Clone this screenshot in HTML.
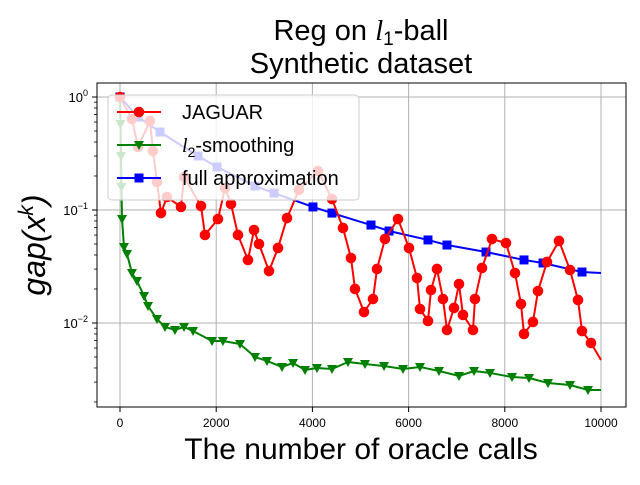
<!DOCTYPE html>
<html><head><meta charset="utf-8"><style>
body{margin:0;background:#fff;}
svg text{font-family:"Liberation Sans","DejaVu Sans",sans-serif;}
</style></head><body>
<svg id="chart" width="640" height="480" viewBox="0 0 640 480" xmlns="http://www.w3.org/2000/svg">
<rect x="0" y="0" width="640" height="480" fill="#fff"/>
<text x="361" y="40" text-anchor="middle" font-size="29">Reg on <tspan font-family="Liberation Serif" font-style="italic">l</tspan><tspan font-size="19" dy="5">1</tspan><tspan dy="-5">-ball</tspan></text>
<text x="361" y="73" text-anchor="middle" font-size="29">Synthetic dataset</text>
<text x="361" y="459" text-anchor="middle" font-size="30">The number of oracle calls</text>
<text transform="translate(45,245) rotate(-90)" text-anchor="middle" font-size="32" font-family="Liberation Serif" font-style="italic">gap(x<tspan font-size="21" dy="-12">k</tspan><tspan dy="12">)</tspan></text>
<g id="grid"></g><g id="series"></g><g id="axes"></g><g id="legend"></g>
</svg>
<script>
const xTicks=[0,2000,4000,6000,8000,10000];
const yTicksExp=[0,-1,-2];
const redX=[0,249,374,624,686,769,852,977,1268,1331,1684,1767,2037,2183,2308,2453,2661,2786,2890,3098,3285,3472,3721,4116,4407,4636,4802,4886,5073,5260,5343,5509,5780,6008,6175,6237,6403,6466,6590,6715,6798,6944,7048,7131,7339,7380,7526,7734,8025,8212,8337,8399,8586,8690,8877,9127,9356,9522,9605,9792,10000];
const redLog=[0,-0.195,-0.442,-0.212,-0.478,-0.752,-1.027,-0.885,-0.973,-0.708,-0.965,-1.221,-1.080,-0.805,-0.947,-1.221,-1.442,-1.177,-1.301,-1.540,-1.336,-1.071,-0.823,-0.655,-0.903,-1.159,-1.425,-1.699,-1.903,-1.788,-1.522,-1.257,-1.080,-1.336,-1.602,-1.876,-1.982,-1.708,-1.522,-1.788,-2.062,-1.867,-1.655,-1.929,-2.062,-1.788,-1.513,-1.257,-1.292,-1.558,-1.832,-2.097,-1.991,-1.717,-1.460,-1.274,-1.531,-1.796,-2.071,-2.177,-2.327];
const blueX=[0,374,832,1622,2017,2807,3202,4012,4407,5218,5593,6403,6798,7609,8399,8794,9605,10000];
const blueLog=[0,-0.177,-0.310,-0.522,-0.619,-0.788,-0.850,-0.973,-1.027,-1.133,-1.186,-1.265,-1.310,-1.372,-1.442,-1.469,-1.549,-1.558];
const greenX=[0,10,20,30,42,83,146,249,353,499,582,769,936,1143,1331,1518,1913,2141,2495,2807,3056,3368,3597,3846,4095,4407,4740,5093,5489,5884,6237,6632,7048,7360,7692,8150,8503,8898,9356,9730,10000];
const greenLog=[0,-0.239,-0.522,-0.796,-1.080,-1.327,-1.389,-1.558,-1.628,-1.761,-1.850,-1.965,-2.035,-2.062,-2.035,-2.071,-2.159,-2.159,-2.186,-2.301,-2.336,-2.389,-2.354,-2.416,-2.398,-2.407,-2.345,-2.363,-2.381,-2.407,-2.389,-2.425,-2.469,-2.425,-2.442,-2.478,-2.487,-2.531,-2.549,-2.593,-2.593];

const L=97,R=626,T=83,B=407;
const X=v=>120+v*(601-120)/10000;
const Y=lg=>97-lg*113;
const NS="http://www.w3.org/2000/svg";
function mk(tag,attrs,parent){const e=document.createElementNS(NS,tag);for(const k in attrs)e.setAttribute(k,attrs[k]);parent.appendChild(e);return e;}
const grid=document.getElementById('grid'),series=document.getElementById('series'),axes=document.getElementById('axes'),legend=document.getElementById('legend');

xTicks.forEach(t=>{
 const g=mk('line',{x1:X(t),x2:X(t),y1:T,y2:B,stroke:'#b0b0b0','stroke-width':1},grid);
 
 
 const tk=mk('line',{x1:X(t),x2:X(t),y1:B,y2:B+5,stroke:'#000','stroke-width':1},axes);
 
 
 const tx=mk('text',{x:X(t),y:B+20,'text-anchor':'middle','font-size':12,'font-family':'Liberation Serif'},axes);
 tx.textContent=t;
 
 
});
yTicksExp.forEach(e=>{
 const g=mk('line',{x1:L,x2:R,y1:Y(e),y2:Y(e),stroke:'#b0b0b0','stroke-width':1},grid);
 
 
 const tk=mk('line',{x1:L-5,x2:L,y1:Y(e),y2:Y(e),stroke:'#000','stroke-width':1},axes);
 
 
 const tx=mk('text',{x:L-9,y:Y(e)+5,'text-anchor':'end','font-size':13,'font-family':'Liberation Serif'},axes);
 tx.innerHTML='10<tspan font-size="9" dy="-6">'+(e===0?'0':'\u2212'+(-e))+'</tspan>';
 
 
});
for(let d=1;d>=-3;d--){for(let m=2;m<=9;m++){const lg=d-1+Math.log10(m);const y=Y(lg);if(y>T&&y<B){
 const tk=mk('line',{x1:L-3,x2:L,y1:y,y2:y,stroke:'#000','stroke-width':0.8},axes);
 
 }}}
const frame=mk('rect',{x:L,y:T,width:R-L,height:B-T,fill:'none',stroke:'#000','stroke-width':1},axes);



function marker(type,x,y,color,parent){
 let e;
 if(type==='circle')e=mk('circle',{cx:x,cy:y,r:5.3,fill:color},parent);
 else if(type==='square')e=mk('rect',{x:x-4.5,y:y-4.5,width:9,height:9,fill:color},parent);
 else e=mk('polygon',{points:`${x-5},${y-4} ${x+5},${y-4} ${x},${y+5}`,fill:color},parent);
 return e;
}
function drawSeries(xs,ls,color,type,name){
 const g=mk('g',{},series);
 
 
 const p=mk('polyline',{points:xs.map((v,i)=>X(v)+','+Y(ls[i])).join(' '),fill:'none',stroke:color,'stroke-width':2},g);
 
 
 for(let i=0;i<xs.length-1;i++){
  const m=marker(type,X(xs[i]),Y(ls[i]),color,g);
  
  
 }
}
drawSeries(greenX,greenLog,'#008000','tri','l2-smoothing');
drawSeries(blueX,blueLog,'#0000ff','square','full-approximation');
drawSeries(redX,redLog,'#ff0000','circle','jaguar');

const box=mk('rect',{x:108,y:95,width:251,height:105,rx:4,fill:'rgba(255,255,255,0.8)',stroke:'#cccccc','stroke-width':1},legend);


const entries=[['JAGUAR','#ff0000','circle',112],['smoothing','#008000','tri',145],['full approximation','#0000ff','square',178]];
entries.forEach((en,i)=>{
 const g=mk('g',{},legend);
 
 
 mk('line',{x1:117,x2:161,y1:en[3],y2:en[3],stroke:en[1],'stroke-width':2},g);
 marker(en[2],139,en[3],en[1],g);
 const t=mk('text',{x:182,y:en[3]+7,'font-size':20},g);
 if(i===1)t.innerHTML='<tspan font-family="Liberation Serif" font-style="italic">l</tspan><tspan font-size="14" dy="5">2</tspan><tspan dy="-5">-smoothing</tspan>';
 else t.textContent=en[0];
});
</script>
</body></html>
